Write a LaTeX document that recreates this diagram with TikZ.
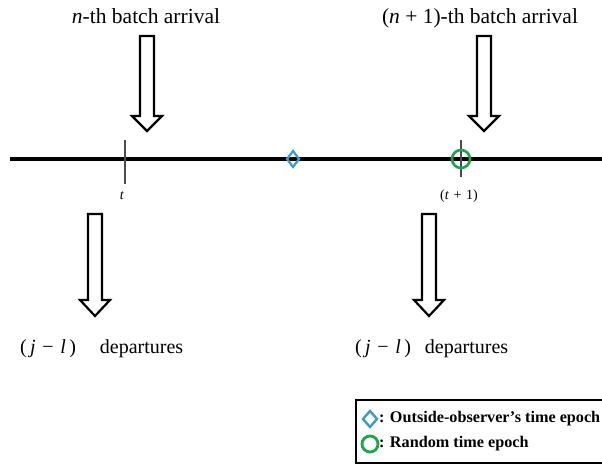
\documentclass[tikz,border=0pt]{standalone}
\usepackage{fontspec}
\setmainfont{Liberation Serif}
\definecolor{obsblue}{HTML}{3C9CC8}
\definecolor{rndgreen}{HTML}{1AA64A}
\newcommand\fatarrowat[4]{%
  \draw[fatarrow] ({#1-7},#2) -- ({#1+7},#2) -- ({#1+7},#3) -- ({#1+15},#3)
    -- (#1,#4) -- ({#1-15},#3) -- ({#1-7},#3) -- cycle;}
\tikzset{
  fatarrow/.style={draw=black, line width=2.2pt, line join=miter, fill=white},
  bigtext/.style={font=\fontsize{21.5}{24}\selectfont, inner sep=0pt},
  deptext/.style={font=\fontsize{20}{24}\selectfont, inner sep=0pt},
  smalltext/.style={font=\fontsize{14}{16}\selectfont, inner sep=0pt},
  legtext/.style={font=\bfseries\fontsize{16.2}{18}\selectfont, inner sep=0pt, anchor=west},
  tickmark/.style={draw=black!70, line width=1.4pt},
}
\begin{document}
\begin{tikzpicture}[x=1pt,y=-1pt]
\useasboundingbox (0,0) rectangle (602,465);
\clip (0,0) rectangle (602,465);
% time axis
\coordinate (axL) at (10,159);
\coordinate (axR) at (610,159);
\draw[line width=4.5pt] (axL) -- (axR);
% ticks
\draw[tickmark] (125,140) -- (125,184);
\draw[tickmark] (461,140) -- (461,177);
\node[smalltext] (tlab) at (122,196) {\textit{t}};
\node[smalltext] (t1lab) at (459,196) {(\textit{t}\,\,+\,\,1)};
% markers on the axis
\coordinate (obs) at (293,159);
\draw[obsblue, line width=2.2pt] ([xshift=-6pt]obs) -- ([yshift=-8pt]obs) -- ([xshift=6pt]obs) -- ([yshift=8pt]obs) -- cycle;
\node[circle, draw=rndgreen, line width=2.6pt, minimum size=18pt, inner sep=0pt] (rnd) at (461,159) {};
% top labels and arrows
\node[bigtext, anchor=base] (arrn) at (146,24) {\textit{n}-th batch arrival};
\node[bigtext, anchor=base] (arrn1) at (480,24) {(\textit{n} + 1)-th batch arrival};
\fatarrowat{147}{36}{116}{131}
\fatarrowat{484}{36}{116}{131}
% bottom arrows and labels
\fatarrowat{95}{214}{300}{316}
\fatarrowat{429}{214}{300}{316}
\node[deptext, anchor=base west] (depL) at (20,353) {(\,\textit{j}\,\,−\,\,\textit{l}\,)\hspace{1.2em}departures};
\node[deptext, anchor=base west] (depR) at (355,353) {(\,\textit{j}\,\,−\,\,\textit{l}\,)\hspace{0.7em}departures};
% legend
\draw[line width=2.4pt] (356,400) rectangle (612,463);
\draw[obsblue, line width=2.4pt] (363,419) -- (370,411) -- (377,419) -- (370,427) -- cycle;
\node[circle, draw=rndgreen, line width=2.8pt, minimum size=16pt, inner sep=0pt] (legrnd) at (370,444) {};
\node[legtext] (legobs) at (379,419) {: Outside-observer’s time epoch};
\node[legtext] (leg2) at (379,444) {: Random time epoch};
\end{tikzpicture}
\end{document}
